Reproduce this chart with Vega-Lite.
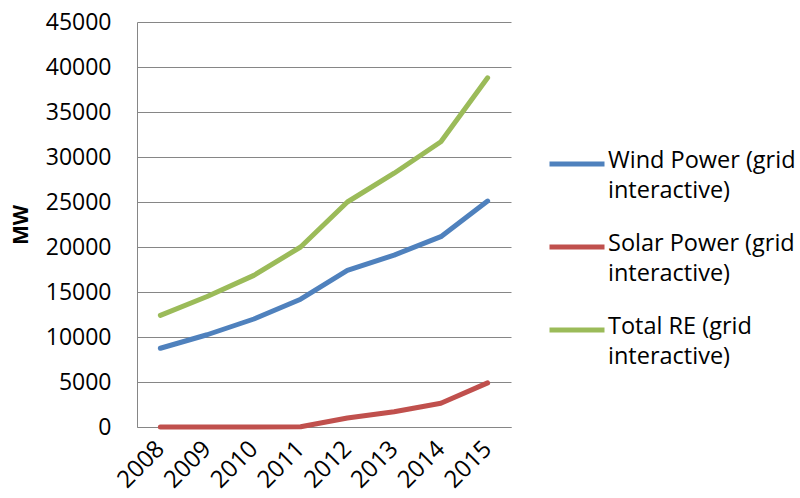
{
  "$schema": "https://vega.github.io/schema/vega-lite/v6.json",
  "width": 374,
  "height": 405,
  "autosize": {"type": "none"},
  "padding": {"left": 137, "top": 22, "right": 289, "bottom": 71},
  "background": "white",
  "config": {
    "view": {"stroke": null},
    "font": "Open Sans"
  },
  "data": {
    "values": [
      {"year": "2008", "series": "Wind Power (grid interactive)", "mw": 8750},
      {"year": "2009", "series": "Wind Power (grid interactive)", "mw": 10250},
      {"year": "2010", "series": "Wind Power (grid interactive)", "mw": 12000},
      {"year": "2011", "series": "Wind Power (grid interactive)", "mw": 14200},
      {"year": "2012", "series": "Wind Power (grid interactive)", "mw": 17400},
      {"year": "2013", "series": "Wind Power (grid interactive)", "mw": 19100},
      {"year": "2014", "series": "Wind Power (grid interactive)", "mw": 21150},
      {"year": "2015", "series": "Wind Power (grid interactive)", "mw": 25100},
      {"year": "2008", "series": "Solar Power (grid interactive)", "mw": 0},
      {"year": "2009", "series": "Solar Power (grid interactive)", "mw": 0},
      {"year": "2010", "series": "Solar Power (grid interactive)", "mw": 10},
      {"year": "2011", "series": "Solar Power (grid interactive)", "mw": 30},
      {"year": "2012", "series": "Solar Power (grid interactive)", "mw": 1000},
      {"year": "2013", "series": "Solar Power (grid interactive)", "mw": 1700},
      {"year": "2014", "series": "Solar Power (grid interactive)", "mw": 2630},
      {"year": "2015", "series": "Solar Power (grid interactive)", "mw": 4900},
      {"year": "2008", "series": "Total RE (grid interactive)", "mw": 12400},
      {"year": "2009", "series": "Total RE (grid interactive)", "mw": 14500},
      {"year": "2010", "series": "Total RE (grid interactive)", "mw": 16850},
      {"year": "2011", "series": "Total RE (grid interactive)", "mw": 20000},
      {"year": "2012", "series": "Total RE (grid interactive)", "mw": 25000},
      {"year": "2013", "series": "Total RE (grid interactive)", "mw": 28200},
      {"year": "2014", "series": "Total RE (grid interactive)", "mw": 31700},
      {"year": "2015", "series": "Total RE (grid interactive)", "mw": 38800}
    ]
  },
  "mark": {"type": "line", "strokeWidth": 5, "strokeCap": "round", "strokeJoin": "round"},
  "encoding": {
    "x": {
      "field": "year",
      "type": "ordinal",
      "scale": {"padding": 0.5},
      "axis": {
        "title": null,
        "labelAngle": -45,
        "labelAlign": "right",
        "labelBaseline": "middle",
        "labelFontSize": 24,
        "labelColor": "#000000",
        "labelPadding": 18,
        "ticks": false,
        "domainColor": "#868686",
        "domainWidth": 1,
        "grid": false
      }
    },
    "y": {
      "field": "mw",
      "type": "quantitative",
      "scale": {"domain": [0, 45000], "nice": false},
      "axis": {
        "title": "MW",
        "titleFontSize": 21,
        "titleFontWeight": "bold",
        "titleColor": "#000000",
        "titlePadding": 14,
        "values": [0, 5000, 10000, 15000, 20000, 25000, 30000, 35000, 40000, 45000],
        "format": "d",
        "labelFontSize": 23,
        "labelColor": "#000000",
        "labelPadding": 26,
        "ticks": false,
        "domainColor": "#868686",
        "gridColor": "#868686",
        "gridWidth": 1
      }
    },
    "color": {
      "field": "series",
      "type": "nominal",
      "scale": {
        "domain": ["Wind Power (grid interactive)", "Solar Power (grid interactive)", "Total RE (grid interactive)"],
        "range": ["#4F81BD", "#C0504D", "#9BBB59"]
      },
      "legend": {
        "title": null,
        "orient": "none",
        "legendX": 410,
        "legendY": 112,
        "symbolType": "stroke",
        "symbolSize": 3025,
        "symbolStrokeWidth": 5,
        "labelFontSize": 23.5,
        "labelColor": "#000000",
        "labelBaseline": "top",
        "labelOffset": 1,
        "labelLimit": 300,
        "rowPadding": 14,
        "labelExpr": "[replace(datum.label, ' interactive)', ''), 'interactive)']",
        "encode": {
          "labels": {
            "update": {
              "lineHeight": {"value": 30},
              "dy": {"value": -15}
            }
          }
        }
      }
    }
  }
}
